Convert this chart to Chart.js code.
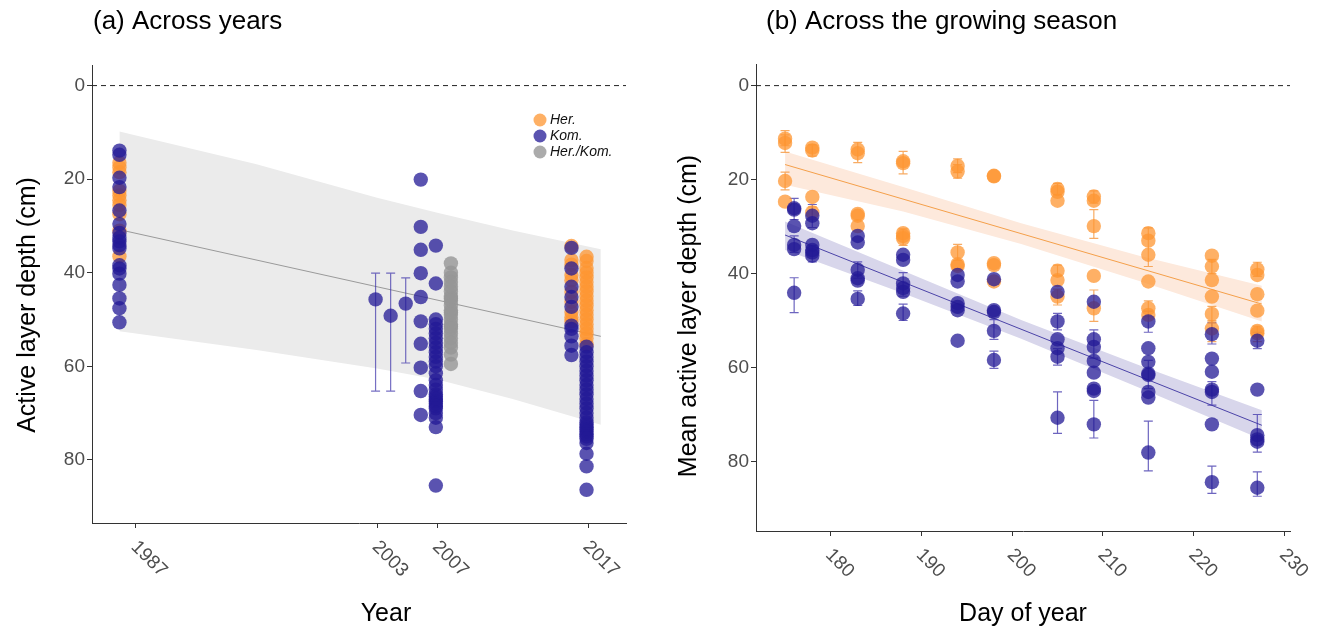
<!DOCTYPE html>
<html>
<head>
<meta charset="utf-8">
<script src="https://cdn.jsdelivr.net/npm/chart.js@4"></script>
<style>
  body { margin: 0; background: #fff; }
  #wrap { position: relative; width: 1322px; height: 634px; }
  canvas { position: absolute; top: 0; }
</style>
</head>
<body>
<div id="wrap">
  <canvas id="yearsChart" width="661" height="634" style="left:0"></canvas>
  <canvas id="seasonChart" width="661" height="634" style="left:661px"></canvas>
</div>
<script>
// ---------- (a) Across years ----------
const yearTicks = [1987, 2003, 2007, 2017];
const depthTicks = [0, 20, 40, 60, 80];

// columns are dodged a little left of the survey year
const herYearsX = [1985.9, 2015.9, 2016.9];
const herYearsDepth = [
  [16.5, 17.5, 18.5, 22.5, 23.5, 24.5, 25.5, 27.5, 31, 36.5],
  [34.3, 37.3, 38.3, 40.5, 41.6, 44.1, 46.2, 48.4, 49.5, 50.4],
  [36.6, 37.5, 39, 40, 41, 42, 43, 44, 45, 46, 47, 48, 49, 50, 51, 52, 53, 54, 55.3]
];
const komYearsX = [1985.9, 2005.9, 2006.9, 2015.9, 2016.9];
const komYearsDepth = [
  [13.9, 14.8, 19.7, 21.7, 26.7, 29.6, 31.5, 32.5, 33.3, 34.1, 34.8, 38.4, 39.1, 40.2, 42.6, 45.5, 47.6, 50.6],
  [20.1, 30.2, 35.1, 40.1, 45.2, 50.4, 55.2, 60.3, 65.3, 70.4],
  [34.2, 42.3, 50, 51, 52, 53, 54, 55, 56, 57, 58, 59, 60, 61.5, 63, 64, 65, 66, 66.5, 67, 67.5, 68, 68.5, 69, 70, 71, 73, 85.5],
  [34.7, 39.1, 43, 45.2, 47.3, 51.3, 52, 53.6, 55.6, 57.6],
  [55.8, 57, 58, 59, 60, 61, 62, 63, 64, 65, 66, 67, 68, 69, 70, 71, 72, 72.5, 73, 73.5, 74, 74.5, 75, 75.5, 76.4, 78.7, 81.4, 86.4]
];
const mixYearsX = [2007.9];
const mixYearsDepth = [
  [38, 40, 41, 42, 43, 44, 45, 45.5, 46, 47, 48, 48.5, 49, 50, 51, 51.5, 52, 53, 54, 55, 56, 57.5, 59.5]
];
// year, mean, low, high
const komSurveyMeans = [
  [2002.9, 45.7, 40.1, 65.3],
  [2003.9, 49.2, 40.1, 65.3],
  [2004.9, 46.6, 41.1, 59.3]
];
const trendYearsX = [1985.9, 2017.85];
const trendYearsDepth = [30.8, 53.6];
const bandYearsX = [1985.9, 1995, 2003, 2007, 2012, 2017.85];
const bandYearsUpper = [9.8, 16.8, 24, 27.2, 31, 35];
const bandYearsLower = [52.5, 56.5, 60.5, 62.8, 67, 72.5];

// ---------- (b) Across the growing season ----------
const dayTicks = [180, 190, 200, 210, 220, 230];
// day, mean depth, low, high (no low/high = no bar)
const herSeason = [
  [175, 11.3, 9.6, 12.8], [175, 12.2, 10.5, 14.2], [175, 20.3, 18.4, 22.2], [175, 24.7],
  [178, 13.2], [178, 13.8, 12.6, 15], [178, 23.7], [178, 27, 25.8, 28.5],
  [183, 13.6], [183, 14.4, 12.1, 16.4], [183, 27.3], [183, 27.7], [183, 29.9],
  [188, 16.1], [188, 16.5, 14, 18.8], [188, 31.4], [188, 32], [188, 32.5, 30.5, 34],
  [194, 17.1, 15.6, 18.5], [194, 18.3, 16.8, 19.7], [194, 35.5, 33.8, 37.2], [194, 38], [194, 38.4],
  [198, 19.2], [198, 19.3], [198, 37.8], [198, 38.2], [198, 41.7],
  [205, 22, 20.8, 23.2], [205, 22.6], [205, 24.5], [205, 39.4, 38.2, 40.5], [205, 41.4], [205, 44.9, 43.3, 46.7],
  [209, 23.6, 22.4, 25], [209, 24.5], [209, 29.9, 26.4, 32.5], [209, 40.5], [209, 47.4, 43.5, 50.2],
  [215, 31.4], [215, 33, 30.3, 38.5], [215, 36], [215, 41.7], [215, 47.4, 45.8, 49.2], [215, 48.8],
  [222, 36.2], [222, 38.5, 37, 40], [222, 41.4], [222, 44.9], [222, 48.6, 47, 50.3], [222, 51.7, 50, 54.5],
  [227, 39.1, 37.6, 40.6], [227, 40.3], [227, 44.4], [227, 47.9], [227, 52.2], [227, 52.7, 51.2, 54.5]
];
const komSeason = [
  [176, 26.1, 24, 28.5], [176, 26.4], [176, 29.9], [176, 33.9, 32, 35.5], [176, 34.8], [176, 44.1, 40.9, 48.3],
  [178, 27.7, 25.3, 30.2], [178, 29.3], [178, 33.9], [178, 35], [178, 35.5, 34, 37.5], [178, 36.2],
  [183, 32], [183, 33.4], [183, 39.2, 37.5, 41], [183, 41], [183, 41.5], [183, 45.4, 43.7, 46.8],
  [188, 36], [188, 37.1], [188, 42.1, 39.8, 44.8], [188, 43.1], [188, 43.9], [188, 48.5, 46.5, 50],
  [194, 40.3], [194, 41.7], [194, 46.3], [194, 47.1], [194, 47.8], [194, 54.3],
  [198, 41.2], [198, 47.8], [198, 48.2], [198, 52.2, 49.8, 54], [198, 58.4, 56.5, 60.2],
  [205, 43.9], [205, 50.2, 48.5, 52], [205, 54], [205, 55.9], [205, 57.7, 56, 59.5], [205, 70.7, 65.2, 74],
  [209, 46], [209, 54], [209, 55.6, 52, 58], [209, 58.6], [209, 61.1], [209, 64.5], [209, 65], [209, 72.1, 67, 75],
  [215, 50.2, 48, 52.5], [215, 55.9], [215, 58.8], [215, 61.3], [215, 61.6, 58.5, 64.5], [215, 65.2], [215, 66.4], [215, 78.1, 71.4, 82],
  [222, 52.9, 50.5, 55], [222, 58.1], [222, 60.9], [222, 64.7], [222, 65.2, 63, 68], [222, 72.1], [222, 84.4, 81, 86.8],
  [227, 54.3, 52.5, 56], [227, 64.7], [227, 74.4], [227, 75.3, 70, 78], [227, 75.8], [227, 85.6, 82.2, 87.4]
];
const trendDays = [175, 227.5];
const herTrend = [16.8, 46.5];
const komTrend = [31.8, 72.3];
const bandDays = [175, 188, 201, 214, 227.5];
const herBandUpper = [14.0, 21.6, 29.3, 36.2, 42.6];
const herBandLower = [21.1, 26.8, 33.7, 41.6, 50.2];
const komBandUpper = [28.9, 39.4, 49.9, 59.5, 69.1];
const komBandLower = [35.0, 44.2, 53.9, 64.3, 75.3];

// ---------- styling ----------
const HER = 'rgba(253,150,50,0.75)';
const KOM = 'rgba(35,25,150,0.75)';
const MIX = 'rgba(150,150,150,0.8)';
const FONT = "'Liberation Sans', Arial, sans-serif";
Chart.defaults.font.family = FONT;

function columns(xs, depths) {
  return xs.flatMap((x, i) => depths[i].map(d => ({ x: x, y: d })));
}
function pairs(xs, ys) {
  return xs.map((x, i) => ({ x: x, y: ys[i] }));
}
function rows(list) {
  return list.map(r => ({ x: r[0], y: r[1] }));
}

const decor = {
  id: 'decor',
  beforeDatasetsDraw(chart) {
    const { ctx, chartArea, scales: { y } } = chart;
    const py = y.getPixelForValue(0);
    ctx.save();
    ctx.strokeStyle = '#222';
    ctx.lineWidth = 1;
    ctx.setLineDash([5, 4]);
    ctx.beginPath();
    ctx.moveTo(chartArea.left, py);
    ctx.lineTo(chartArea.right, py);
    ctx.stroke();
    ctx.restore();
  },
  afterDatasetDraw(chart, args, opts) {
    if (args.index !== opts.barsAfter) return;
    const { ctx, scales: { x, y } } = chart;
    ctx.save();
    ctx.lineWidth = 1.2;
    opts.bars.forEach(group => {
      ctx.strokeStyle = group.color;
      group.rows.forEach(r => {
        if (r.length < 4) return;
        const px = x.getPixelForValue(r[0]);
        const y1 = y.getPixelForValue(r[2]);
        const y2 = y.getPixelForValue(r[3]);
        ctx.beginPath();
        ctx.moveTo(px, y1); ctx.lineTo(px, y2);
        ctx.moveTo(px - 4.5, y1); ctx.lineTo(px + 4.5, y1);
        ctx.moveTo(px - 4.5, y2); ctx.lineTo(px + 4.5, y2);
        ctx.stroke();
      });
    });
    ctx.restore();
  },
  afterDraw(chart, args, opts) {
    const { ctx, chartArea, scales: { x } } = chart;
    ctx.save();
    // rotated x tick labels
    ctx.fillStyle = '#4d4d4d';
    ctx.font = '19px ' + FONT;
    ctx.textAlign = 'left';
    ctx.textBaseline = 'middle';
    opts.xLabels.forEach(v => {
      ctx.save();
      ctx.translate(x.getPixelForValue(v) - 2, chartArea.bottom + 21);
      ctx.rotate(Math.PI / 4);
      ctx.fillText(String(v), 0, 0);
      ctx.restore();
    });
    // panel title
    ctx.fillStyle = '#000';
    ctx.font = '26px ' + FONT;
    ctx.fillText(opts.title, opts.titleX, 22);
    // axis titles
    ctx.font = '25px ' + FONT;
    ctx.textAlign = 'center';
    ctx.fillText(opts.xTitle, opts.xTitleX, 614);
    ctx.save();
    ctx.translate(28, opts.yTitleY);
    ctx.rotate(-Math.PI / 2);
    ctx.fillText(opts.yTitle, 0, 0);
    ctx.restore();
    // legend
    if (opts.legend) {
      ctx.textAlign = 'left';
      ctx.font = 'italic 14px ' + FONT;
      opts.legend.forEach((item, i) => {
        const cy = 120 + i * 16;
        ctx.fillStyle = item.color;
        ctx.beginPath();
        ctx.arc(540, cy, 6.5, 0, Math.PI * 2);
        ctx.fill();
        ctx.fillStyle = '#111';
        ctx.fillText(item.label, 550, cy);
      });
    }
    ctx.restore();
  }
};

function axisX(min, max, ticks, height) {
  return {
    type: 'linear', min: min, max: max,
    afterBuildTicks: s => { s.ticks = ticks.map(v => ({ value: v })); },
    afterFit: s => { s.height = height; },
    ticks: { display: false },
    grid: { drawOnChartArea: false, tickLength: 5, color: '#333' },
    border: { color: '#333', width: 1 }
  };
}
function axisY(min, max, width) {
  return {
    type: 'linear', reverse: true, min: min, max: max,
    afterBuildTicks: s => { s.ticks = depthTicks.map(v => ({ value: v })); },
    afterFit: s => { s.width = width; },
    ticks: { color: '#4d4d4d', font: { size: 19 }, padding: 2 },
    grid: { drawOnChartArea: false, tickLength: 5, color: '#333' },
    border: { color: '#333', width: 1 }
  };
}
const pointStyle = color => ({ backgroundColor: color, borderWidth: 0, pointRadius: 7.2, showLine: false });

new Chart(document.getElementById('yearsChart'), {
  type: 'scatter',
  data: {
    datasets: [
      Object.assign({ label: 'Kom.', data: columns(komYearsX, komYearsDepth).concat(rows(komSurveyMeans)), order: 1 }, pointStyle(KOM)),
      Object.assign({ label: 'Her.', data: columns(herYearsX, herYearsDepth), order: 2 }, pointStyle(HER)),
      Object.assign({ label: 'Her./Kom.', data: columns(mixYearsX, mixYearsDepth), order: 2 }, pointStyle(MIX)),
      { label: 'trend', data: pairs(trendYearsX, trendYearsDepth), showLine: true, borderColor: '#9a9a9a', borderWidth: 1, pointRadius: 0, order: 3 },
      { label: 'bandUpper', data: pairs(bandYearsX, bandYearsUpper), showLine: true, borderWidth: 0, pointRadius: 0, fill: '+1', backgroundColor: '#ebebeb', order: 4 },
      { label: 'bandLower', data: pairs(bandYearsX, bandYearsLower), showLine: true, borderWidth: 0, pointRadius: 0, fill: false, order: 4 }
    ]
  },
  options: {
    responsive: false, animation: false, events: [],
    layout: { padding: { top: 65, right: 35, left: 0, bottom: 0 } },
    scales: {
      x: axisX(1984.08, 2019.52, yearTicks, 111),
      y: axisY(-4.4, 93.5, 92)
    },
    plugins: {
      legend: { display: false }, tooltip: { enabled: false },
      decor: {
        barsAfter: 3,
        bars: [{ color: 'rgba(60,50,170,0.7)', rows: komSurveyMeans }],
        xLabels: yearTicks,
        title: '(a) Across years', titleX: 93,
        xTitle: 'Year', xTitleX: 386,
        yTitle: 'Active layer depth (cm)', yTitleY: 305,
        legend: [{ label: 'Her.', color: HER }, { label: 'Kom.', color: KOM }, { label: 'Her./Kom.', color: MIX }]
      }
    }
  },
  plugins: [decor]
});

new Chart(document.getElementById('seasonChart'), {
  type: 'scatter',
  data: {
    datasets: [
      Object.assign({ label: 'Kom.', data: rows(komSeason), order: 1 }, pointStyle(KOM)),
      Object.assign({ label: 'Her.', data: rows(herSeason), order: 2 }, pointStyle(HER)),
      { label: 'herTrend', data: pairs(trendDays, herTrend), showLine: true, borderColor: '#f5a04a', borderWidth: 1, pointRadius: 0, order: 3 },
      { label: 'komTrend', data: pairs(trendDays, komTrend), showLine: true, borderColor: '#4b43a8', borderWidth: 1, pointRadius: 0, order: 3 },
      { label: 'herUpper', data: pairs(bandDays, herBandUpper), showLine: true, borderWidth: 0, pointRadius: 0, fill: '+1', backgroundColor: '#fde9dc', order: 4 },
      { label: 'herLower', data: pairs(bandDays, herBandLower), showLine: true, borderWidth: 0, pointRadius: 0, fill: false, order: 4 },
      { label: 'komUpper', data: pairs(bandDays, komBandUpper), showLine: true, borderWidth: 0, pointRadius: 0, fill: '+1', backgroundColor: '#d8d6eb', order: 4 },
      { label: 'komLower', data: pairs(bandDays, komBandLower), showLine: true, borderWidth: 0, pointRadius: 0, fill: false, order: 4 }
    ]
  },
  options: {
    responsive: false, animation: false, events: [],
    layout: { padding: { top: 64, right: 32, left: 0, bottom: 0 } },
    scales: {
      x: axisX(171.8, 230.6, dayTicks, 103),
      y: axisY(-4.6, 94.8, 95)
    },
    plugins: {
      legend: { display: false }, tooltip: { enabled: false },
      decor: {
        barsAfter: 2,
        bars: [
          { color: 'rgba(245,150,60,0.8)', rows: herSeason },
          { color: 'rgba(60,50,170,0.75)', rows: komSeason }
        ],
        xLabels: dayTicks,
        title: '(b) Across the growing season', titleX: 105,
        xTitle: 'Day of year', xTitleX: 362,
        yTitle: 'Mean active layer depth (cm)', yTitleY: 316
      }
    }
  },
  plugins: [decor]
});
</script>
</body>
</html>
